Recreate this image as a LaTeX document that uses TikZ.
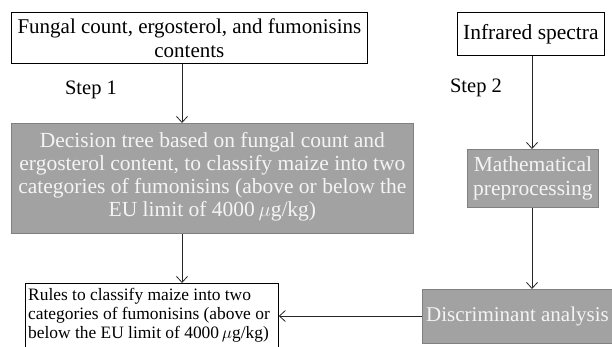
\documentclass[tikz,border=0pt]{standalone}
\usepackage{fontspec}
\setmainfont{Liberation Serif}
\usetikzlibrary{arrows.meta}
\definecolor{boxgray}{HTML}{A2A2A2}
\definecolor{boxedge}{HTML}{808080}
\definecolor{lighttext}{HTML}{F4F4F4}
\tikzset{
  whitebox/.style={draw=black, line width=0.8pt, fill=white, inner sep=0pt, anchor=north west},
  graybox/.style={draw=boxedge, line width=0.8pt, fill=boxgray, inner sep=0pt, anchor=north west},
  txt/.style={font=\fontsize{21.5}{24}\selectfont, align=center, inner sep=0pt},
  lbl/.style={font=\fontsize{20.5}{23}\selectfont, inner sep=0pt},
  arr/.style={-{Straight Barb[length=6pt,width=11pt]}, line width=0.8pt, black!85},
}
\begin{document}
\begin{tikzpicture}[x=1pt,y=-1pt]
\useasboundingbox (0,0) rectangle (612,346);
% boxes
\node[whitebox, minimum width=356pt, minimum height=51pt] (top) at (11,12) {};
\node[txt, font=\fontsize{21}{24}\selectfont] at (top.center) {Fungal count, ergosterol, and fumonisins\\contents};
\node[whitebox, minimum width=147pt, minimum height=43pt] (ir) at (457,12) {};
\node[txt] at (ir.center) {Infrared spectra};
\node[graybox, minimum width=402pt, minimum height=110pt] (dec) at (11,123) {};
\node[txt, text=lighttext, font=\fontsize{21.5}{23}\selectfont] at ([yshift=2pt]dec.center) {Decision tree based on fungal count and\\ergosterol content, to classify maize into two\\categories of fumonisins (above or below the\\EU limit of 4000\,$\mu$g/kg)};
\node[graybox, minimum width=131pt, minimum height=58pt] (math) at (467,149) {};
\node[txt, text=lighttext] at (math.center) {Mathematical\\preprocessing};
\node[graybox, minimum width=200pt, minimum height=54pt] (disc) at (422,289) {};
\node[txt, text=lighttext, anchor=west, font=\fontsize{21}{24}\selectfont] at (426,316) {Discriminant analysis};
\node[whitebox, minimum width=253pt, minimum height=66pt] (rules) at (25,283) {};
\node[txt, align=left, anchor=north west, font=\fontsize{17.4}{19}\selectfont] at (28,288) {Rules to classify maize into two\\categories of fumonisins (above or\\below the EU limit of 4000\,$\mu$g/kg)};
% labels
\node[lbl] (s1) at (91,90) {Step 1};
\node[lbl] (s2) at (476,88) {Step 2};
% connectors
\coordinate (xl) at (182,0);
\coordinate (xr) at (532,0);
\draw[arr] (top.south -| xl) -- (dec.north -| xl);
\draw[arr] (dec.south -| xl) -- (rules.north -| xl);
\draw[arr] (ir.south -| xr) -- (math.north -| xr);
\draw[arr] (math.south -| xr) -- (disc.north -| xr);
\draw[arr] (disc.west |- 0,316) -- (rules.east |- 0,316);
\end{tikzpicture}
\end{document}
